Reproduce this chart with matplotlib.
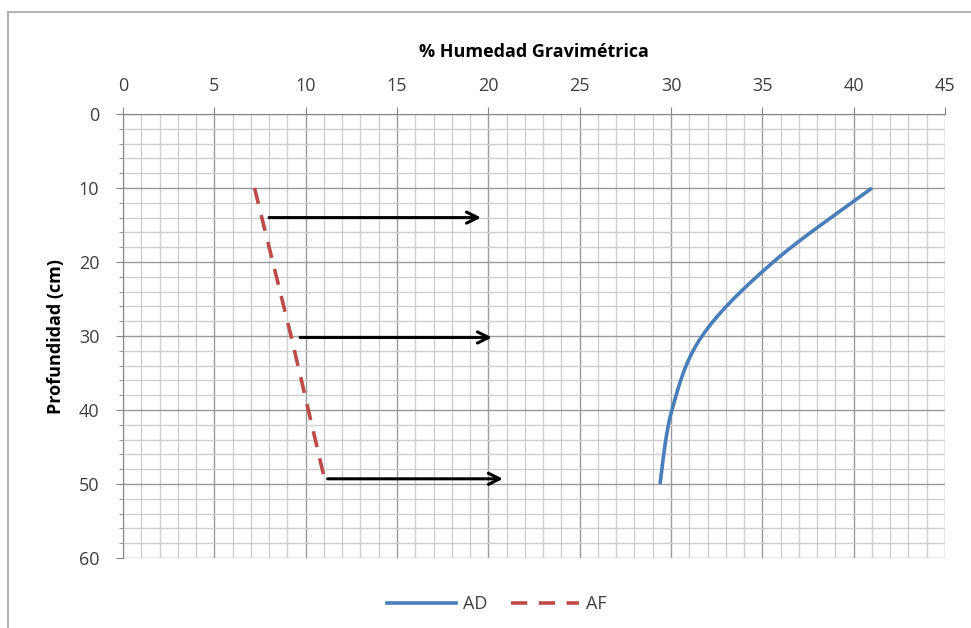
import numpy as np
import matplotlib
matplotlib.use("Agg")
import matplotlib.pyplot as plt
from matplotlib.lines import Line2D

# ---- data ----
ad_x = [41.0, 35.6, 31.7, 30.05, 29.4]
ad_y = [10, 20, 30, 40, 50]
af_x = [7.2, 9.2, 11.0]
af_y = [10, 30, 49]
arrow_start_x = [8.0, 9.7, 11.2]
arrow_end_x = [19.6, 20.2, 20.8]
arrow_y = [14.0, 30.2, 49.3]
x_ticks = [0, 5, 10, 15, 20, 25, 30, 35, 40, 45]
y_ticks = [0, 10, 20, 30, 40, 50, 60]


def smooth(xs, ys, n=40):
    """Excel-like smoothed line (Catmull-Rom style Bezier) through the points."""
    P = np.column_stack([xs, ys]).astype(float)
    out = []
    for i in range(len(P) - 1):
        p0 = P[i - 1] if i > 0 else P[i]
        p1, p2 = P[i], P[i + 1]
        p3 = P[i + 2] if i + 2 < len(P) else P[i + 1]
        c1 = p1 + (p2 - p0) / 6.0
        c2 = p2 - (p3 - p1) / 6.0
        t = np.linspace(0, 1, n)[:, None]
        seg = ((1 - t) ** 3) * p1 + 3 * ((1 - t) ** 2) * t * c1 + 3 * (1 - t) * t ** 2 * c2 + t ** 3 * p2
        out.append(seg if i == 0 else seg[1:])
    s = np.vstack(out)
    return s[:, 0], s[:, 1]


plt.rcParams['font.family'] = ['Open Sans', 'DejaVu Sans']

fig = plt.figure(figsize=(9.71, 6.28), dpi=100)
ax = fig.add_axes([123 / 971, 1 - 558 / 628, 822 / 971, 444 / 628])

# outer chart border (left and top)
fig.add_artist(Line2D([8 / 971, 8 / 971], [0, 1 - 12 / 628], color='#a6a6a6', lw=1.2,
                      transform=fig.transFigure))
fig.add_artist(Line2D([8 / 971, 1], [1 - 12 / 628, 1 - 12 / 628], color='#a6a6a6', lw=1.2,
                      transform=fig.transFigure))

ax.set_xlim(0, 45)
ax.set_ylim(60, 0)
ax.xaxis.tick_top()
ax.xaxis.set_label_position('top')
ax.set_xticks(x_ticks)
ax.set_yticks(y_ticks)
ax.set_xticks(np.arange(0, 46, 1), minor=True)
ax.set_yticks(np.arange(0, 61, 2), minor=True)
ax.grid(which='minor', color='#d0d0d0', lw=1.0)
ax.grid(which='major', color='#9a9a9a', lw=1.0)
ax.set_axisbelow(True)
for side in ['right', 'bottom']:
    ax.spines[side].set_visible(False)
ax.spines['left'].set_color('#868686')
ax.spines['top'].set_color('#868686')
ax.tick_params(axis='both', which='major', length=5, color='#868686',
               labelsize=13, labelcolor='#404040')
ax.tick_params(axis='x', which='major', pad=9)
ax.tick_params(axis='y', which='major', pad=12)
ax.tick_params(axis='x', which='minor', length=0)
ax.tick_params(axis='y', which='minor', length=3, color='#868686')

ax.set_xlabel('% Humedad Gravimétrica', fontsize=13, fontweight='bold', labelpad=14)
ax.set_ylabel('Profundidad (cm)', fontsize=13, fontweight='bold', labelpad=10)

sx, sy = smooth(ad_x, ad_y)
ax.plot(sx, sy, color='#4A7EBB', lw=2.6, solid_capstyle='butt', label='AD')
ax.plot(af_x, af_y, color='#BE4B48', lw=2.6, dashes=(4.5, 3.2), label='AF')

for x0, x1, yy in zip(arrow_start_x, arrow_end_x, arrow_y):
    ax.annotate('', xy=(x1, yy), xytext=(x0, yy),
                arrowprops=dict(arrowstyle='->,head_length=0.8,head_width=0.4',
                                color='black', lw=2.2, shrinkA=0, shrinkB=0))

h = [Line2D([], [], color='#4A7EBB', lw=2.6),
     Line2D([], [], color='#BE4B48', lw=2.6, dashes=(4.5, 3.2))]
fig.legend(h, ['AD', 'AF'], loc='center', bbox_to_anchor=(497 / 971, 1 - 604 / 628),
           ncol=2, frameon=False, fontsize=13, handlelength=3.8, columnspacing=1.3,
           handletextpad=0.4, labelcolor='#404040')

fig.savefig('out.png', dpi=100, facecolor='white')
